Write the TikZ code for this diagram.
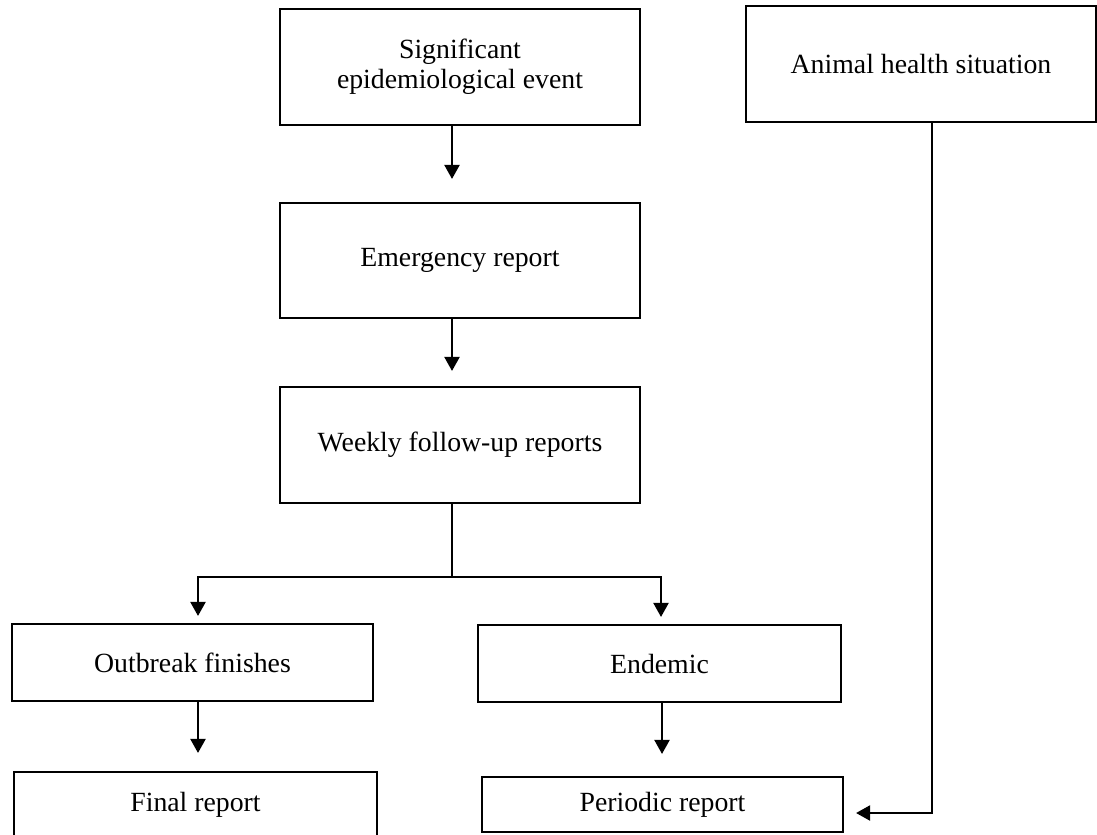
\documentclass[tikz,border=0pt]{standalone}
\usepackage{fontspec}
\setmainfont{Liberation Serif}
\usetikzlibrary{arrows.meta, positioning, calc}
\tikzset{
  every picture/.style={line width=1.2pt},
  box/.style={draw, rectangle, align=center, inner sep=0pt, minimum width=#1,
              font=\fontsize{15.8pt}{17.1pt}\selectfont},
  box/.default=7.2cm,
  arrow/.style={-{Triangle[length=0.28cm, width=0.3cm]}, line width=1.2pt},
}

\begin{document}
\begin{tikzpicture}
  \useasboundingbox (0,0) rectangle (21.94,-16.68);
  % left column: the event and its reports
  \node[box, minimum height=2.32cm] (event) at (9.2,-1.34) {Significant\\epidemiological event};
  \node[box, minimum height=2.3cm] (emergency) at (9.2,-5.21) {Emergency report};
  \node[box, minimum height=2.32cm] (weekly) at (9.2,-8.9) {Weekly follow-up reports};
  % two outcomes
  \node[box=7.22cm, minimum height=1.54cm] (outbreak) at (3.85,-13.25) {Outbreak finishes};
  \node[box=7.26cm, minimum height=1.54cm] (endemic) at (13.19,-13.27) {Endemic};
  \node[box=7.26cm, minimum height=1.32cm] (final) at (3.91,-16.1) {Final report};
  \node[box=7.22cm, minimum height=1.1cm] (periodic) at (13.25,-16.09) {Periodic report};
  % right column
  \node[box=7.0cm, minimum height=2.32cm] (animal) at (18.42,-1.28) {Animal health situation};
  \draw[arrow, shorten >=0.46cm] ([xshift=-0.16cm]event.south) -- ([xshift=-0.16cm]emergency.north);
  \draw[arrow, shorten >=0.3cm] ([xshift=-0.16cm]emergency.south) -- ([xshift=-0.16cm]weekly.north);
  \coordinate (split) at ([xshift=-0.16cm, yshift=-1.46cm]weekly.south);
  \draw ([xshift=-0.16cm]weekly.south) -- (split);
  \draw[arrow, shorten >=0.14cm] (split) -| ([xshift=0.11cm]outbreak.north);
  \draw[arrow, shorten >=0.14cm] (split) -| ([xshift=0.03cm]endemic.north);
  \draw[arrow, shorten >=0.36cm] ([xshift=0.11cm]outbreak.south) -- ([xshift=0.11cm]outbreak.south |- final.north);
  \draw[arrow, shorten >=0.44cm] ([xshift=0.05cm]endemic.south) -- ([xshift=0.05cm]endemic.south |- periodic.north);
  \draw[arrow, shorten >=0.24cm] ([xshift=0.22cm]animal.south) |- ([yshift=-0.17cm]periodic.east);
\end{tikzpicture}
\end{document}
